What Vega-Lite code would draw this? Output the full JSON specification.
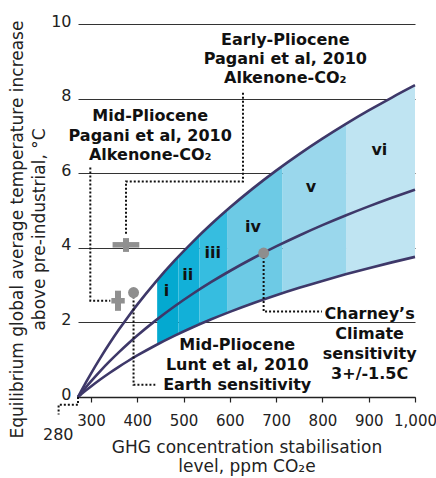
{
  "$schema": "https://vega.github.io/schema/vega-lite/v6.json",
  "width": 337,
  "height": 373,
  "autosize": "none",
  "padding": {"left": 78, "top": 24, "right": 21, "bottom": 81},
  "config": {"view": {"stroke": null}, "font": "DejaVu Sans"},
  "datasets": {
    "curves": [
      {"curve": "upper", "x": 272, "y": 0}, {"curve": "upper", "x": 274, "y": 0.047}, {"curve": "upper", "x": 276, "y": 0.094}, {"curve": "upper", "x": 280, "y": 0.186}, {"curve": "upper", "x": 290, "y": 0.411}, {"curve": "upper", "x": 300, "y": 0.629}, {"curve": "upper", "x": 320, "y": 1.043}, {"curve": "upper", "x": 340, "y": 1.433}, {"curve": "upper", "x": 360, "y": 1.8}, {"curve": "upper", "x": 380, "y": 2.147}, {"curve": "upper", "x": 400, "y": 2.476}, {"curve": "upper", "x": 440, "y": 3.088}, {"curve": "upper", "x": 480, "y": 3.647}, {"curve": "upper", "x": 520, "y": 4.16}, {"curve": "upper", "x": 560, "y": 4.636}, {"curve": "upper", "x": 600, "y": 5.079}, {"curve": "upper", "x": 650, "y": 5.593}, {"curve": "upper", "x": 700, "y": 6.069}, {"curve": "upper", "x": 750, "y": 6.512}, {"curve": "upper", "x": 800, "y": 6.926}, {"curve": "upper", "x": 850, "y": 7.315}, {"curve": "upper", "x": 900, "y": 7.682}, {"curve": "upper", "x": 950, "y": 8.029}, {"curve": "upper", "x": 1000, "y": 8.359},
      {"curve": "middle", "x": 272, "y": 0}, {"curve": "middle", "x": 274, "y": 0.031}, {"curve": "middle", "x": 276, "y": 0.062}, {"curve": "middle", "x": 280, "y": 0.124}, {"curve": "middle", "x": 290, "y": 0.274}, {"curve": "middle", "x": 300, "y": 0.418}, {"curve": "middle", "x": 320, "y": 0.694}, {"curve": "middle", "x": 340, "y": 0.953}, {"curve": "middle", "x": 360, "y": 1.197}, {"curve": "middle", "x": 380, "y": 1.428}, {"curve": "middle", "x": 400, "y": 1.647}, {"curve": "middle", "x": 440, "y": 2.054}, {"curve": "middle", "x": 480, "y": 2.426}, {"curve": "middle", "x": 520, "y": 2.767}, {"curve": "middle", "x": 560, "y": 3.084}, {"curve": "middle", "x": 600, "y": 3.378}, {"curve": "middle", "x": 650, "y": 3.72}, {"curve": "middle", "x": 700, "y": 4.037}, {"curve": "middle", "x": 750, "y": 4.331}, {"curve": "middle", "x": 800, "y": 4.607}, {"curve": "middle", "x": 850, "y": 4.866}, {"curve": "middle", "x": 900, "y": 5.11}, {"curve": "middle", "x": 950, "y": 5.341}, {"curve": "middle", "x": 1000, "y": 5.56},
      {"curve": "lower", "x": 272, "y": 0}, {"curve": "lower", "x": 274, "y": 0.021}, {"curve": "lower", "x": 276, "y": 0.042}, {"curve": "lower", "x": 280, "y": 0.084}, {"curve": "lower", "x": 290, "y": 0.185}, {"curve": "lower", "x": 300, "y": 0.283}, {"curve": "lower", "x": 320, "y": 0.469}, {"curve": "lower", "x": 340, "y": 0.644}, {"curve": "lower", "x": 360, "y": 0.809}, {"curve": "lower", "x": 380, "y": 0.965}, {"curve": "lower", "x": 400, "y": 1.113}, {"curve": "lower", "x": 440, "y": 1.388}, {"curve": "lower", "x": 480, "y": 1.639}, {"curve": "lower", "x": 520, "y": 1.87}, {"curve": "lower", "x": 560, "y": 2.084}, {"curve": "lower", "x": 600, "y": 2.283}, {"curve": "lower", "x": 650, "y": 2.514}, {"curve": "lower", "x": 700, "y": 2.728}, {"curve": "lower", "x": 750, "y": 2.927}, {"curve": "lower", "x": 800, "y": 3.113}, {"curve": "lower", "x": 850, "y": 3.288}, {"curve": "lower", "x": 900, "y": 3.453}, {"curve": "lower", "x": 950, "y": 3.609}, {"curve": "lower", "x": 1000, "y": 3.757}
    ],
    "bands": [
      {"band": "i", "x": 443, "y": 3.131, "y2": 1.407}, {"band": "i", "x": 460, "y": 3.373, "y2": 1.516}, {"band": "i", "x": 489, "y": 3.766, "y2": 1.692},
      {"band": "ii", "x": 489, "y": 3.766, "y2": 1.692}, {"band": "ii", "x": 510, "y": 4.036, "y2": 1.814}, {"band": "ii", "x": 534, "y": 4.331, "y2": 1.946},
      {"band": "iii", "x": 534, "y": 4.331, "y2": 1.946}, {"band": "iii", "x": 560, "y": 4.636, "y2": 2.084}, {"band": "iii", "x": 594, "y": 5.014, "y2": 2.254},
      {"band": "iv", "x": 594, "y": 5.014, "y2": 2.254}, {"band": "iv", "x": 650, "y": 5.593, "y2": 2.514}, {"band": "iv", "x": 714, "y": 6.196, "y2": 2.785},
      {"band": "v", "x": 714, "y": 6.196, "y2": 2.785}, {"band": "v", "x": 750, "y": 6.512, "y2": 2.927}, {"band": "v", "x": 800, "y": 6.926, "y2": 3.113}, {"band": "v", "x": 851, "y": 7.322, "y2": 3.291},
      {"band": "vi", "x": 851, "y": 7.322, "y2": 3.291}, {"band": "vi", "x": 900, "y": 7.682, "y2": 3.453}, {"band": "vi", "x": 950, "y": 8.029, "y2": 3.609}, {"band": "vi", "x": 1000, "y": 8.359, "y2": 3.757}
    ],
    "dotted": [
      {"path": "A", "seq": 1, "x": 298.6, "y": 6.15}, {"path": "A", "seq": 2, "x": 298.6, "y": 2.58}, {"path": "A", "seq": 3, "x": 341.8, "y": 2.58},
      {"path": "B", "seq": 1, "x": 628.4, "y": 8.16}, {"path": "B", "seq": 2, "x": 628.4, "y": 5.78}, {"path": "B", "seq": 3, "x": 375.7, "y": 5.78}, {"path": "B", "seq": 4, "x": 375.7, "y": 4.32},
      {"path": "C", "seq": 1, "x": 392, "y": 2.8}, {"path": "C", "seq": 2, "x": 392, "y": 0.33}, {"path": "C", "seq": 3, "x": 439, "y": 0.33},
      {"path": "D", "seq": 1, "x": 673, "y": 3.86}, {"path": "D", "seq": 2, "x": 673, "y": 2.29}, {"path": "D", "seq": 3, "x": 799, "y": 2.29},
      {"path": "E", "seq": 1, "x": 272, "y": 0}, {"path": "E", "seq": 2, "x": 272, "y": -0.21}, {"path": "E", "seq": 3, "x": 230.1, "y": -0.21}, {"path": "E", "seq": 4, "x": 230.1, "y": -0.47}
    ],
    "plusH": [
      {"marker": "Early-Pliocene", "x": 346.7, "x2": 404.4, "y": 4.08},
      {"marker": "Mid-Pliocene", "x": 344, "x2": 373, "y": 2.58}
    ],
    "plusV": [
      {"marker": "Early-Pliocene", "x": 375.7, "y": 3.89, "y2": 4.26},
      {"marker": "Mid-Pliocene", "x": 358.4, "y": 2.31, "y2": 2.85}
    ],
    "dots": [
      {"marker": "Lunt", "x": 392, "y": 2.8},
      {"marker": "Charney", "x": 673, "y": 3.86}
    ],
    "labels": [
      {"x": 719.8, "y": 9.57, "text": "Early-Pliocene"},
      {"x": 719.8, "y": 9.05, "text": "Pagani et al, 2010"},
      {"x": 719.8, "y": 8.55, "text": "Alkenone-CO₂"},
      {"x": 428, "y": 7.53, "text": "Mid-Pliocene"},
      {"x": 428, "y": 7.01, "text": "Pagani et al, 2010"},
      {"x": 428, "y": 6.5, "text": "Alkenone-CO₂"},
      {"x": 616, "y": 1.4, "text": "Mid-Pliocene"},
      {"x": 616, "y": 0.85, "text": "Lunt et al, 2010"},
      {"x": 616, "y": 0.33, "text": "Earth sensitivity"},
      {"x": 902, "y": 2.23, "text": "Charney’s"},
      {"x": 902, "y": 1.68, "text": "Climate"},
      {"x": 902, "y": 1.15, "text": "sensitivity"},
      {"x": 902, "y": 0.61, "text": "3+/-1.5C"},
      {"x": 463, "y": 2.83, "text": "i"},
      {"x": 509, "y": 3.28, "text": "ii"},
      {"x": 563, "y": 3.86, "text": "iii"},
      {"x": 650, "y": 4.56, "text": "iv"},
      {"x": 775, "y": 5.63, "text": "v"},
      {"x": 923, "y": 6.63, "text": "vi"}
    ],
    "origin": [
      {"x": 229.4, "y": -1.01, "text": "280"}
    ]
  },
  "encoding": {
    "x": {
      "field": "x", "type": "quantitative",
      "scale": {"domain": [272, 1000], "nice": false, "zero": false},
      "axis": {
        "values": [300, 400, 500, 600, 700, 800, 900, 1000],
        "format": ",d",
        "grid": false,
        "domainColor": "#222", "domainWidth": 1.3,
        "tickColor": "#222", "tickSize": 5, "tickWidth": 1.2,
        "labelFontSize": 15, "labelColor": "#222", "labelPadding": 11,
        "labelFlush": false, "labelOverlap": false, "labelBound": false,
        "title": ["GHG concentration stabilisation", "level, ppm CO₂e"],
        "titleFontSize": 17, "titleFontWeight": "normal", "titleColor": "#222",
        "titlePadding": 11, "titleLineHeight": 19
      }
    },
    "y": {
      "field": "y", "type": "quantitative",
      "scale": {"domain": [0, 10], "nice": false, "zero": false},
      "axis": {
        "values": [0, 2, 4, 6, 8, 10],
        "grid": true, "gridColor": "#333", "gridWidth": 1,
        "domain": false, "ticks": false, "tickSize": 0,
        "labelFontSize": 16, "labelColor": "#222", "labelPadding": 7, "labelOffset": -3,
        "title": ["Equilibrium global average temperature increase", "above pre-industrial, °C"],
        "titleFontSize": 17, "titleFontWeight": "normal", "titleColor": "#222",
        "titlePadding": 2, "titleLineHeight": 22, "titleY": 205
      }
    }
  },
  "layer": [
    {
      "data": {"name": "bands"},
      "mark": {"type": "area", "interpolate": "monotone"},
      "encoding": {
        "y2": {"field": "y2"},
        "color": {
          "field": "band", "type": "nominal",
          "scale": {"domain": ["i", "ii", "iii", "iv", "v", "vi"], "range": ["#04a9d0", "#12b0d8", "#36bde0", "#6dcae5", "#9ad7ec", "#bfe4f2"]},
          "legend": null
        }
      }
    },
    {
      "data": {"name": "curves"},
      "mark": {"type": "line", "interpolate": "monotone", "color": "#3e3869", "strokeWidth": 2.6},
      "encoding": {"detail": {"field": "curve"}}
    },
    {
      "data": {"name": "dotted"},
      "mark": {"type": "line", "color": "#111", "strokeWidth": 2, "strokeDash": [2, 2], "strokeCap": "butt"},
      "encoding": {"detail": {"field": "path"}, "order": {"field": "seq"}}
    },
    {
      "data": {"name": "plusH"},
      "mark": {"type": "rule", "color": "#909090", "strokeWidth": 5.5, "strokeCap": "butt"},
      "encoding": {"x2": {"field": "x2"}}
    },
    {
      "data": {"name": "plusV"},
      "mark": {"type": "rule", "color": "#909090", "strokeWidth": 6, "strokeCap": "butt"},
      "encoding": {"y2": {"field": "y2"}}
    },
    {
      "data": {"name": "dots"},
      "mark": {"type": "point", "filled": true, "color": "#8e8e8e", "opacity": 1, "size": 120}
    },
    {
      "data": {"name": "labels"},
      "mark": {"type": "text", "font": "DejaVu Sans", "fontWeight": "bold", "fontSize": 16, "color": "#111", "align": "center", "baseline": "middle"},
      "encoding": {"text": {"field": "text"}}
    },
    {
      "data": {"name": "origin"},
      "mark": {"type": "text", "font": "DejaVu Sans", "fontSize": 16, "color": "#222", "align": "center", "baseline": "middle"},
      "encoding": {"text": {"field": "text"}}
    }
  ]
}
